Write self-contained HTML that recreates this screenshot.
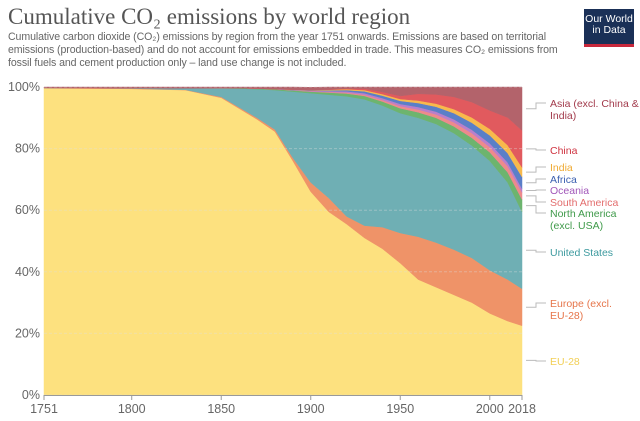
<!DOCTYPE html>
<html><head><meta charset="utf-8"><style>
html,body{margin:0;padding:0;background:#fff;}
body{width:640px;height:421px;position:relative;overflow:hidden;font-family:"Liberation Sans",sans-serif;}
#title{position:absolute;left:8px;top:4px;font-family:"Liberation Serif",serif;font-size:23px;color:#555;white-space:nowrap;}
#sub{position:absolute;left:8px;top:31px;width:600px;font-size:10.6px;line-height:13.2px;color:#666;letter-spacing:-0.1px;}
#sub div{white-space:nowrap;}
#logo{position:absolute;left:584px;top:9px;width:50px;height:38px;background:#1a3057;color:#fff;font-size:10.5px;line-height:11px;text-align:center;box-sizing:border-box;padding-top:5px;border-bottom:3px solid #c8283c;}
</style></head><body>
<div id="title">Cumulative CO₂ emissions by world region</div>
<div id="sub"><div>Cumulative carbon dioxide (CO₂) emissions by region from the year 1751 onwards. Emissions are based on territorial</div><div>emissions (production-based) and do not account for emissions embedded in trade. This measures CO₂ emissions from</div><div>fossil fuels and cement production only – land use change is not included.</div></div>
<div id="logo">Our World<br>in Data</div>
<svg id="chart" width="640" height="421" style="position:absolute;left:0;top:0"></svg>
<script>
const years=[1751,1800,1830,1850,1860,1870,1880,1890,1900,1910,1920,1930,1940,1950,1960,1970,1980,1990,2000,2010,2018];
const eu28=[99.6,99.4,99,96.5,93,89.5,85.5,76,66,59.5,55.5,51,47.5,42.8,37.5,35,32.5,30,26.5,24,22.5];
const europeExcl=[0.1,0.1,0.1,0.3,0.4,0.5,0.7,1,3,4.5,2.5,4,7,9.8,13.9,14.5,14.7,14.5,14,13.5,12];
const unitedStates=[0.05,0.15,0.5,2.8,6.1,9.3,12.8,21.5,29,33.5,39,41,39.5,38.9,38.6,38.5,37.8,36.5,35.5,31.5,25];
const northAmerica=[0,0,0,0.1,0.15,0.2,0.3,0.4,0.5,0.7,0.9,1.1,1.3,1.6,1.8,2,2.2,2.5,2.8,3.3,4];
const southAmerica=[0,0,0,0,0,0,0,0.05,0.1,0.2,0.3,0.4,0.5,0.7,0.9,1.1,1.3,1.5,1.7,2,2.3];
const oceania=[0,0,0,0,0,0,0.05,0.1,0.2,0.3,0.4,0.5,0.6,0.7,0.8,0.9,1,1.1,1.2,1.2,1.2];
const africa=[0,0,0,0,0,0,0,0.05,0.1,0.2,0.4,0.6,0.8,1,1.3,1.6,2,2.3,2.6,3,3.8];
const india=[0,0,0,0,0,0,0,0.05,0.1,0.2,0.3,0.4,0.5,0.6,0.8,1,1.3,1.7,2.1,2.6,3.1];
const china=[0,0,0,0,0,0,0,0,0.05,0.1,0.2,0.5,0.7,1,2.2,3,4,5,6,9,12];
const asiaExcl=[0.25,0.35,0.4,0.3,0.35,0.5,0.65,0.85,0.85,0.8,0.5,0.5,1.6,2.9,2.2,2.4,3.2,4.9,7.6,9.9,14.1];
const yTicks=[0,20,40,60,80,100];
const xTicks=[1751,1800,1850,1900,1950,2000,2018];
const series=[
 {name:'EU-28',v:eu28,fill:'#fde17f',lab:'#f2cf55',ly:[361]},
 {name:'Europe (excl. EU-28)',v:europeExcl,fill:'#ef9368',lab:'#e6754a',ly:[303,315],lines:['Europe (excl.','EU-28)']},
 {name:'United States',v:unitedStates,fill:'#6fafb4',lab:'#3d9a9f',ly:[252]},
 {name:'North America (excl. USA)',v:northAmerica,fill:'#6db46e',lab:'#3f9a4a',ly:[213,225],lines:['North America','(excl. USA)']},
 {name:'South America',v:southAmerica,fill:'#ee8a8c',lab:'#e36d6d',ly:[202]},
 {name:'Oceania',v:oceania,fill:'#b97fcb',lab:'#a156b9',ly:[190]},
 {name:'Africa',v:africa,fill:'#5a7fc8',lab:'#3a5fb0',ly:[179]},
 {name:'India',v:india,fill:'#f8b94c',lab:'#efaa33',ly:[167]},
 {name:'China',v:china,fill:'#e15a5e',lab:'#cf3340',ly:[150]},
 {name:'Asia (excl. China & India)',v:asiaExcl,fill:'#b3636b',lab:'#a23a4b',ly:[103,115],lines:['Asia (excl. China &','India)']}
];
const X0=44,X1=522,Y0=395,Y1=87;
const x=y=>X0+(y-1751)/(2018-1751)*(X1-X0);
const yS=v=>Y0-v/100*(Y0-Y1);
const svg=document.getElementById('chart');
const NS='http://www.w3.org/2000/svg';
function mk(t,a){const e=document.createElementNS(NS,t);for(const k in a)e.setAttribute(k,a[k]);svg.appendChild(e);return e;}
let base=years.map(()=>0);
series.forEach(s=>{
 const top=base.map((b,i)=>b+s.v[i]);
 let d='M'+years.map((yr,i)=>x(yr)+','+yS(top[i])).join('L');
 for(let i=years.length-1;i>=0;i--)d+='L'+x(years[i])+','+yS(base[i]);
 const p=mk('path',{d:d+'Z',fill:s.fill,stroke:s.fill,'stroke-width':0.5});
 
 
 s.endMid=yS((top[top.length-1]+base[base.length-1])/2);
 base=top;
});
yTicks.forEach(t=>{
 const g=mk('line',{x1:X0,x2:X1,y1:yS(t),y2:yS(t),stroke:'#ddd','stroke-dasharray':'3,2','stroke-opacity':0.4});
 
 
 const l=mk('text',{x:40,y:yS(t)+4,'text-anchor':'end','font-size':12.5,fill:'#666'});
 l.textContent=t+'%';
 
 
});
mk('line',{x1:X0,x2:X1,y1:Y0+0.5,y2:Y0+0.5,stroke:'#999'});
xTicks.forEach(t=>{
 mk('line',{x1:x(t),x2:x(t),y1:Y0,y2:Y0+5,stroke:'#999'});
 const l=mk('text',{x:x(t),y:413,'text-anchor':'middle','font-size':12.5,fill:'#666'});
 l.textContent=t;
 
 
});
series.forEach(s=>{
 const ly=s.ly[0];
 const pl=mk('polyline',{points:(X1+4)+','+s.endMid+' '+(X1+14)+','+s.endMid+' '+(X1+14)+','+ly+' '+(X1+24)+','+ly,fill:'none',stroke:'#bbb','stroke-width':1});
 
 
 const lines=s.lines||[s.name];
 lines.forEach((tx,i)=>{
  const t=mk('text',{x:550,y:s.ly[i]+4,'font-size':10.5,fill:s.lab});
  t.textContent=tx;
  
  
 });
});
</script>
</body></html>
